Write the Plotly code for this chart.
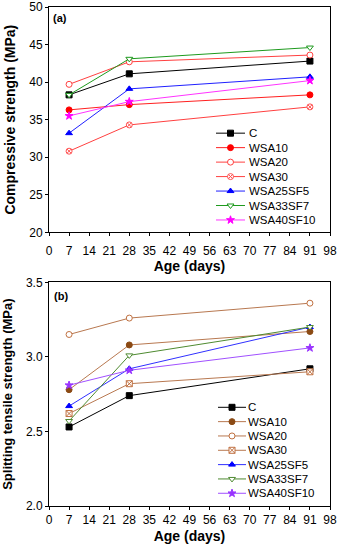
import plotly.graph_objects as go

# ---------------- data ----------------
ages = [7, 28, 91]
series_names = ["C", "WSA10", "WSA20", "WSA30", "WSA25SF5", "WSA33SF7", "WSA40SF10"]

compressive = {
    "C":         [38.3, 41.1, 42.8],
    "WSA10":     [36.3, 37.0, 38.3],
    "WSA20":     [39.7, 42.7, 43.6],
    "WSA30":     [30.8, 34.3, 36.7],
    "WSA25SF5":  [33.2, 39.1, 40.7],
    "WSA33SF7":  [38.3, 43.1, 44.6],
    "WSA40SF10": [35.5, 37.4, 40.2],
}
splitting = {
    "C":         [2.53, 2.74, 2.92],
    "WSA10":     [2.78, 3.08, 3.17],
    "WSA20":     [3.15, 3.26, 3.36],
    "WSA30":     [2.62, 2.82, 2.90],
    "WSA25SF5":  [2.67, 2.92, 3.20],
    "WSA33SF7":  [2.57, 3.01, 3.20],
    "WSA40SF10": [2.81, 2.91, 3.06],
}
x_ticks = list(range(0, 99, 7))

# ---------------- styles ----------------
style_a = {
    "C":         dict(line="#000000", mfill="#000000", medge="#000000", symbol="square"),
    "WSA10":     dict(line="#FF2020", mfill="#FF0000", medge="#FF0000", symbol="circle"),
    "WSA20":     dict(line="#FF4040", mfill="white", medge="#FF4040", symbol="circle"),
    "WSA30":     dict(line="#FF4040", mfill="white", medge="#FF5050", symbol="circle-x"),
    "WSA25SF5":  dict(line="#2020FF", mfill="#0000FF", medge="#0000FF", symbol="triangle-up"),
    "WSA33SF7":  dict(line="#1E9A1E", mfill="white", medge="#1E9A1E", symbol="triangle-down"),
    "WSA40SF10": dict(line="#FF33FF", mfill="#FF00FF", medge="#FF00FF", symbol="star"),
}
style_b = {
    "C":         dict(line="#000000", mfill="#000000", medge="#000000", symbol="square"),
    "WSA10":     dict(line="#B87850", mfill="#8B4A14", medge="#8B4A14", symbol="circle"),
    "WSA20":     dict(line="#B87850", mfill="white", medge="#C07040", symbol="circle"),
    "WSA30":     dict(line="#B87850", mfill="white", medge="#C07040", symbol="square-x"),
    "WSA25SF5":  dict(line="#3030FF", mfill="#0000FF", medge="#0000FF", symbol="triangle-up"),
    "WSA33SF7":  dict(line="#4E8A30", mfill="white", medge="#4E8A30", symbol="triangle-down"),
    "WSA40SF10": dict(line="#A050FF", mfill="#9933FF", medge="#9933FF", symbol="star"),
}

FONT = "Arial, Liberation Sans, sans-serif"
W, H = 337, 550
ML, MR, MT, MB = 49, 7, 7, 44
plot_h = H - MT - MB
top_dom = [1 - (232.3 - MT) / plot_h, 1.0]
bot_dom = [0.0, 1 - (282.3 - MT) / plot_h]
MSIZE = 6

fig = go.Figure()

def add_series(data, styles, xa, ya):
    for name in series_names:
        s = styles[name]
        fig.add_trace(go.Scatter(
            x=ages, y=data[name], mode="lines+markers", name=name,
            xaxis=xa, yaxis=ya, showlegend=False,
            line=dict(color=s["line"], width=1),
            marker=dict(symbol=s["symbol"], size=MSIZE, color=s["mfill"],
                        line=dict(color=s["medge"], width=1)),
        ))

add_series(compressive, style_a, "x", "y")
add_series(splitting, style_b, "x2", "y2")

# -------- manual legends on pixel-scaled overlay axes --------
annotations = []
def add_legend(styles, xa, ya, y0, step, lx0, lx1, tx):
    for i, name in enumerate(series_names):
        s = styles[name]
        yy = y0 + i * step
        fig.add_trace(go.Scatter(
            x=[lx0, lx1], y=[yy, yy], mode="lines", xaxis=xa, yaxis=ya,
            showlegend=False, hoverinfo="skip",
            line=dict(color=s["line"], width=1)))
        fig.add_trace(go.Scatter(
            x=[(lx0 + lx1) / 2], y=[yy], mode="markers", xaxis=xa, yaxis=ya,
            showlegend=False, hoverinfo="skip",
            marker=dict(symbol=s["symbol"], size=MSIZE, color=s["mfill"],
                        line=dict(color=s["medge"], width=1))))
        annotations.append(dict(
            x=tx, y=yy, xref=xa, yref=ya, text=name, showarrow=False,
            xanchor="left", yanchor="middle",
            font=dict(family=FONT, size=11.5, color="black")))

add_legend(style_a, "x3", "y3", 133.3, 14.45, 216, 245, 247)
add_legend(style_b, "x4", "y4", 407.3, 14.33, 218, 246, 246)

annotations.append(dict(x=0.008, y=0.985, xref="x domain", yref="y domain",
                        text="<b>(a)</b>", showarrow=False, xanchor="left", yanchor="top",
                        font=dict(family=FONT, size=11, color="black")))
annotations.append(dict(x=0.012, y=0.975, xref="x2 domain", yref="y2 domain",
                        text="<b>(b)</b>", showarrow=False, xanchor="left", yanchor="top",
                        font=dict(family=FONT, size=11, color="black")))

axis_common = dict(showline=True, linecolor="black", linewidth=1, mirror=True,
                   ticks="outside", ticklen=3, tickwidth=1, tickcolor="black",
                   showgrid=False, zeroline=False, automargin=False,
                   ticklabeloverflow="allow",
                   tickfont=dict(family=FONT, size=12, color="black"))

fig.update_layout(
    width=W, height=H,
    margin=dict(l=ML, r=MR, t=MT, b=MB, autoexpand=False),
    paper_bgcolor="white", plot_bgcolor="white",
    font=dict(family=FONT, color="black"),
    showlegend=False,
    xaxis=dict(domain=[0, 1], anchor="y", range=[0, 98], tickvals=x_ticks,
               ticklabelstandoff=4,
               title=dict(text="<b>Age (days)</b>", standoff=2,
                          font=dict(family=FONT, size=14)),
               **axis_common),
    yaxis=dict(domain=top_dom, anchor="x", range=[20, 50], dtick=5,
               title=dict(text="<b>Compressive strength (MPa)</b>", standoff=10,
                          font=dict(family=FONT, size=14)),
               **axis_common),
    xaxis2=dict(domain=[0, 1], anchor="y2", range=[0, 98], tickvals=x_ticks,
                title=dict(text="<b>Age (days)</b>", standoff=4,
                           font=dict(family=FONT, size=14)),
                **axis_common),
    yaxis2=dict(domain=bot_dom, anchor="x2", range=[2.0, 3.5], dtick=0.5,
                tickformat=".1f",
                title=dict(text="<b>Splitting tensile strength (MPa)</b>", standoff=10,
                           font=dict(family=FONT, size=13)),
                **axis_common),
    xaxis3=dict(overlaying="x", anchor="y3", range=[ML, W - MR], visible=False),
    yaxis3=dict(overlaying="y", anchor="x3", range=[232.3, 7.3], visible=False),
    xaxis4=dict(overlaying="x2", anchor="y4", range=[ML, W - MR], visible=False),
    yaxis4=dict(overlaying="y2", anchor="x4", range=[506.0, 282.3], visible=False),
    annotations=annotations,
)

fig.write_html("out.html",
               config={"displayModeBar": False},
               post_script="document.body.style.margin='0px';document.body.style.overflow='hidden';")
